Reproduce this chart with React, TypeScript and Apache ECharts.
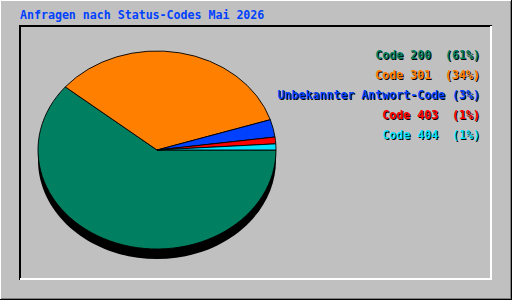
import React, { useEffect, useRef } from "react";
import * as echarts from "echarts";

const title = "Anfragen nach Status-Codes Mai 2026";
const categories = ["Code 200", "Code 301", "Unbekannter Antwort-Code", "Code 403", "Code 404"];
const separators = ["  ", "  ", " ", "  ", "  "];
const values = [6100, 3405, 286, 110, 99];
const colors = ["#008060", "#FF8000", "#0040FF", "#FF0000", "#00E0FF"];

export default function App() {
  const ref = useRef<HTMLDivElement>(null);
  useEffect(() => {
    const chart = echarts.init(ref.current!, null, { renderer: "svg" });
    const total = values.reduce((a, b) => a + b, 0);
    const starts: number[] = [];
    let acc = 0;
    values.forEach((v) => {
      starts.push(acc);
      acc += v;
    });
    const CX = 157, CY = 150, RX = 119, RY = 99, DEPTH = 10;
    const font = 'bold 11.6px "DejaVu Sans Mono", monospace';
    chart.setOption({
      animation: false,
      backgroundColor: "#C0C0C0",
      graphic: [
        { type: "line", z: 0, shape: { x1: 0, y1: 0.5, x2: 511, y2: 0.5 }, style: { stroke: "#fff", lineWidth: 1 } },
        { type: "line", z: 0, shape: { x1: 0.5, y1: 0, x2: 0.5, y2: 299 }, style: { stroke: "#fff", lineWidth: 1 } },
        { type: "line", z: 0, shape: { x1: 0, y1: 299.5, x2: 512, y2: 299.5 }, style: { stroke: "#000", lineWidth: 1 } },
        { type: "line", z: 0, shape: { x1: 511.5, y1: 0, x2: 511.5, y2: 300 }, style: { stroke: "#000", lineWidth: 1 } },
        { type: "line", z: 0, shape: { x1: 1, y1: 298.5, x2: 511, y2: 298.5 }, style: { stroke: "#808080", lineWidth: 1 } },
        { type: "line", z: 0, shape: { x1: 510.5, y1: 1, x2: 510.5, y2: 299 }, style: { stroke: "#808080", lineWidth: 1 } },
        { type: "line", z: 0, shape: { x1: 19, y1: 26, x2: 492, y2: 26 }, style: { stroke: "#000", lineWidth: 2 } },
        { type: "line", z: 0, shape: { x1: 20, y1: 25, x2: 20, y2: 280 }, style: { stroke: "#000", lineWidth: 2 } },
        { type: "line", z: 0, shape: { x1: 20, y1: 279, x2: 492, y2: 279 }, style: { stroke: "#fff", lineWidth: 2 } },
        { type: "line", z: 0, shape: { x1: 491, y1: 26, x2: 491, y2: 280 }, style: { stroke: "#fff", lineWidth: 2 } },
        { type: "ellipse", z: 0, shape: { cx: CX, cy: CY + DEPTH, rx: RX, ry: RY }, style: { fill: "#000" } },
        {
          type: "text",
          z: 0,
          x: 20,
          y: 15,
          style: { text: title, fill: "#0040FF", font, align: "left", verticalAlign: "middle" },
        },
      ],
      series: [
        {
          type: "custom",
          coordinateSystem: "none",
          z: 2,
          data: values.map((v, i) => ({ value: v, name: categories[i] })),
          renderItem: (params: any, api: any) => {
            const i = params.dataIndex;
            const v = api.value(0) as number;
            const a0 = (starts[i] / total) * Math.PI * 2;
            const a1 = ((starts[i] + v) / total) * Math.PI * 2;
            const pct = Math.round((v / total) * 100);
            const label = categories[i] + separators[i] + "(" + pct + "%)";
            const ty = 54.5 + i * 20;
            return {
              type: "group",
              children: [
                {
                  type: "group",
                  x: CX,
                  y: CY,
                  scaleY: RY / RX,
                  children: [
                    {
                      type: "sector",
                      shape: { cx: 0, cy: 0, r: RX, r0: 0, startAngle: a0, endAngle: a1, clockwise: true },
                      style: { fill: colors[i], stroke: "#000", lineWidth: 1, strokeNoScale: true },
                    },
                  ],
                },
                {
                  type: "text",
                  x: 481,
                  y: ty + 1,
                  style: { text: label, fill: "#000", font, align: "right", verticalAlign: "middle" },
                },
                {
                  type: "text",
                  x: 480,
                  y: ty,
                  style: { text: label, fill: colors[i], font, align: "right", verticalAlign: "middle" },
                },
              ],
            };
          },
        },
      ],
    });
    return () => chart.dispose();
  }, []);
  return <div ref={ref} style={{ position: "fixed", left: 0, top: 0, width: 512, height: 300 }} />;
}
